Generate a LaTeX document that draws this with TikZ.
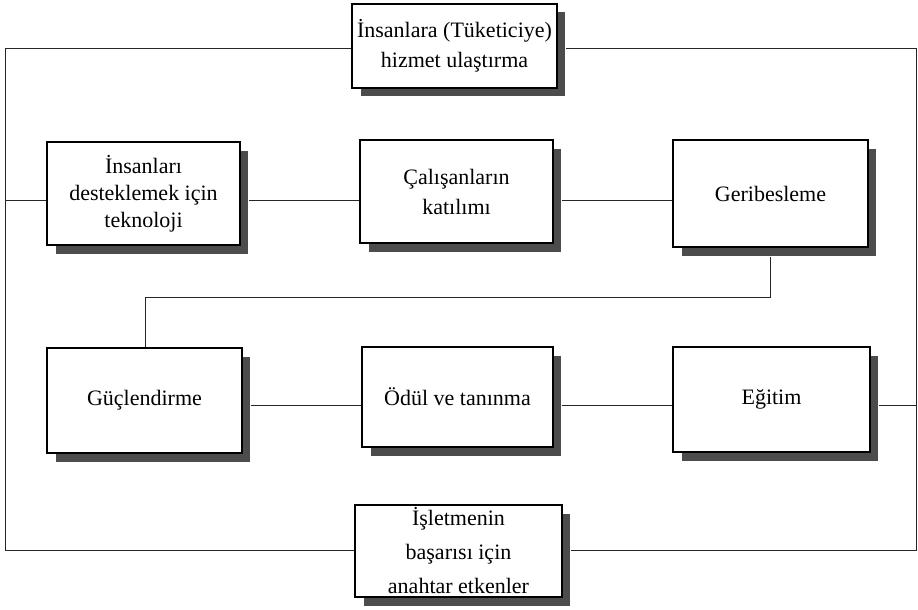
\documentclass[tikz,border=0pt]{standalone}
\usepackage{fontspec}
\setmainfont{Liberation Serif}
\begin{document}
\begin{tikzpicture}[x=1pt,y=-1pt,
  factor/.style={draw=black, line width=1.7pt, fill=white, align=center,
    minimum width=195pt, minimum height=104pt, inner sep=2pt,
    font=\fontsize{22}{30}\selectfont},
  shade box/.style={fill=black!70, draw=none},
  link/.style={draw=black!85, line width=0.9pt}]
\useasboundingbox (0,0) rectangle (918,610);

% shadows behind each box (offset down and right)
\foreach \cx/\cy/\w/\h in {454.5/45/205/84, 143.5/193.5/193/103, 456.5/191.5/193/103,
  770.5/193.5/195/107, 144.5/400.5/195/105, 457.5/397/191/100, 771.5/399.5/197/105,
  458.5/551/207/92}
  \fill[shade box] (\cx-\w/2+9,\cy-\h/2+9) rectangle (\cx+\w/2+8,\cy+\h/2+9);

% the eight factor boxes
\node[factor, minimum width=205pt, minimum height=84pt] (top) at (454.5,46)
  {İnsanlara (Tüketiciye)\\hizmet ulaştırma};
\node[factor, minimum width=193pt, minimum height=103pt,
      font=\fontsize{22}{27}\selectfont] (tech) at (143.5,193.5)
  {İnsanları\\desteklemek için\\teknoloji};
\node[factor, minimum width=193pt, minimum height=103pt] (part) at (456.5,191.5)
  {Çalışanların\\katılımı};
\node[factor, minimum width=195pt, minimum height=107pt] (feed) at (770.5,193.5)
  {Geribesleme};
\node[factor, minimum width=195pt, minimum height=105pt] (power) at (144.5,400.5)
  {Güçlendirme};
\node[factor, minimum width=191pt, minimum height=100pt] (reward) at (457.5,397)
  {Ödül ve tanınma};
\node[factor, minimum width=197pt, minimum height=105pt] (train) at (771.5,399.5)
  {Eğitim};
\node[factor, minimum width=207pt, minimum height=92pt,
      font=\fontsize{22}{34}\selectfont] (key) at (458.5,551)
  {İşletmenin\\başarısı için\\anahtar etkenler};

% outer frame corners and taps
\coordinate (tl) at (5,48);
\coordinate (tr) at (916,48);
\coordinate (bl) at (5,550);
\coordinate (br) at (916,550);
\coordinate (ltap) at (5,200);
\coordinate (rtap) at (916,405);
\coordinate (bend1) at (770,297);
\coordinate (bend2) at (145,297);

% outer frame
\draw[link] (top.west |- tl) -- (tl) -- (bl) -- (key.west |- bl);
\draw[link] ([xshift=8pt]top.east |- tr) -- (tr) -- (br) -- ([xshift=8pt]key.east |- br);

% row connections
\draw[link] (ltap) -- (tech.west |- ltap);
\draw[link] ([xshift=8pt]tech.east |- ltap) -- (part.west |- ltap);
\draw[link] ([xshift=8pt]part.east |- ltap) -- (feed.west |- ltap);
\draw[link] ([yshift=-9pt]bend1 |- feed.south) -- (bend1) -- (bend2) -- (power.north -| bend2);
\draw[link] ([xshift=8pt]power.east |- rtap) -- (reward.west |- rtap);
\draw[link] ([xshift=8pt]reward.east |- rtap) -- (train.west |- rtap);
\draw[link] ([xshift=8pt]train.east |- rtap) -- (rtap);
\end{tikzpicture}
\end{document}
